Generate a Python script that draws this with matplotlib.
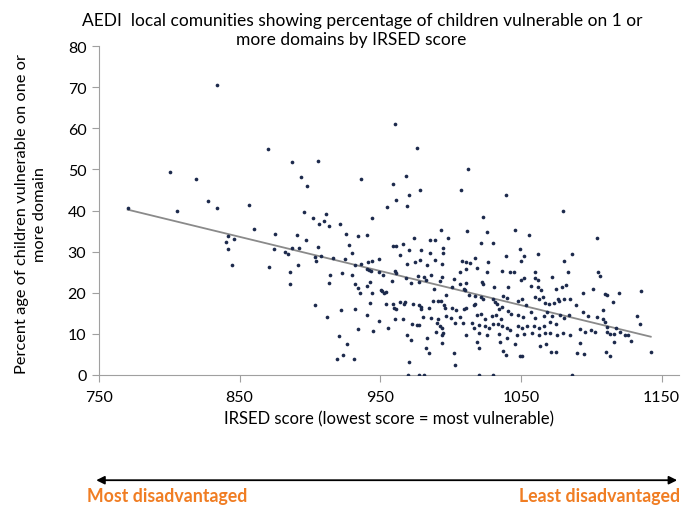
import matplotlib.pyplot as plt
import numpy as np

plt.rcParams['font.family'] = ['Lato', 'DejaVu Sans']

# IRSED score and % of children vulnerable on 1+ domains, per local community
irsed_low = [770.5, 805.4, 800.8, 818.9, 827.2, 834.1, 833.6, 857.0, 870.3, 887.4,
             860.5, 875.5, 891.0, 841.5, 846.3, 840.6, 841.5, 887.1, 891.9, 874.3,
             882.0, 884.6, 844.3, 870.7, 891.6, 886.0, 886.0]
pct_low = [40.5, 39.9, 49.4, 47.7, 42.2, 40.6, 70.5, 41.3, 55.0, 51.8,
           35.4, 34.3, 34.0, 33.7, 33.0, 32.3, 30.6, 30.9, 31.0, 30.6,
           29.8, 29.5, 26.7, 26.3, 26.7, 25.0, 22.1]

irsed_high = [960.8, 976.4, 905.6, 1012.1, 893.5, 968.6, 936.3, 897.8, 959.1, 978.2,
              1007.2, 970.3, 961.5, 954.6, 969.3, 895.5, 911.4, 902.3, 944.1,
              1039.0, 1079.6, 1022.8]
pct_high = [61.1, 55.2, 52.0, 50.0, 48.2, 48.4, 47.7, 46.0, 46.5, 45.0,
            45.0, 43.8, 42.6, 40.8, 41.1, 39.7, 39.1, 38.2, 38.2,
            43.8, 39.9, 38.4]

irsed_mid = [909.7, 906.3, 913.7, 921.5, 896.9, 925.8, 934.2, 940.4, 905.6, 928.0,
             930.1, 903.3, 904.4, 907.6, 916.6, 924.7, 936.5, 941.5, 944.1, 949.4,
             932.0, 940.5, 942.0, 943.6, 914.2, 923.0, 929.7, 913.7, 932.0, 934.2,
             940.5, 942.5, 935.6, 944.4, 950.6, 951.5, 952.5, 954.4, 903.5, 912.3,
             922.0, 932.0, 940.8, 942.5, 948.9, 934.2, 945.1, 920.6, 926.6, 919.0,
             923.7, 931.1, 955.3, 954.4, 958.9, 959.8, 961.5, 963.9, 966.6, 967.9,
             960.3, 966.2, 959.1, 961.5, 966.2, 974.3, 985.3, 989.1, 993.1, 998.3,
             1011.4, 964.1, 970.5, 979.1, 985.5, 994.6, 994.6, 968.9, 975.0, 978.4,
             983.3, 988.6, 993.8, 960.3, 961.1, 949.1, 952.0, 958.2, 968.6, 972.0,
             976.7, 981.0, 977.7, 982.4, 988.3, 992.1, 993.6, 986.0, 1002.6, 1006.4,
             1010.7, 1007.8, 1010.7, 1006.8, 1009.5, 1010.7, 1010.0, 997.0, 1001.0, 1013.3,
             972.9, 977.2, 978.6, 979.2, 987.6, 991.3, 992.8, 984.7, 995.4, 996.1,
             1000.7, 1003.5, 1009.3, 1010.7, 980.7, 986.0, 991.0, 996.7, 1000.5, 1006.7,
             976.0, 977.6, 972.5, 990.0, 992.6, 994.2, 994.6, 1003.1, 1009.0, 969.1,
             982.9, 989.3, 993.8, 1011.0, 993.6, 971.5, 982.4, 984.3, 1002.4, 1002.8,
             970.5, 969.8, 977.5, 981.1, 1020.3, 1030.2, 1086.5]
pct_mid = [37.5, 36.7, 36.3, 36.6, 32.8, 34.2, 33.9, 34.1, 31.2, 31.6,
           29.7, 28.8, 27.7, 29.0, 28.4, 28.2, 27.0, 27.5, 27.7, 28.2,
           26.8, 25.8, 25.5, 25.3, 24.4, 24.7, 24.2, 22.4, 22.1, 21.2,
           21.7, 22.5, 19.9, 19.9, 20.7, 20.3, 19.9, 20.1, 17.1, 14.2,
           15.8, 16.1, 14.6, 17.6, 13.2, 11.3, 10.7, 9.4, 7.5, 4.0,
           4.9, 4.0, 11.5, 17.2, 17.3, 16.4, 16.1, 17.7, 17.3, 17.7,
           13.6, 13.6, 31.4, 31.3, 31.9, 33.2, 32.9, 32.8, 35.3, 33.2,
           34.9, 29.2, 30.4, 30.3, 29.7, 30.9, 29.6, 27.0, 27.4, 28.0,
           26.8, 28.0, 27.0, 25.3, 24.7, 25.0, 24.4, 22.9, 23.5, 22.4,
           24.1, 23.9, 22.6, 23.0, 20.9, 22.9, 23.8, 24.3, 23.3, 25.0,
           25.7, 27.6, 27.4, 22.1, 21.0, 22.4, 20.6, 19.5, 21.5, 19.5,
           17.3, 16.9, 16.5, 16.1, 17.9, 18.1, 18.1, 16.3, 16.9, 16.3,
           16.3, 15.7, 16.1, 16.4, 14.1, 13.8, 13.5, 14.4, 13.8, 14.2,
           12.2, 12.1, 12.3, 12.6, 11.8, 11.4, 10.1, 12.7, 12.6, 9.7,
           9.0, 10.5, 9.7, 9.6, 7.8, 8.4, 6.5, 5.4, 5.4, 2.5,
           3.2, 0.0, 0.0, 0.0, 0.0, 0.0, 0.0]

irsed_right = [1026.1, 1045.9, 1055.4, 1104.1, 1021.4, 1030.4, 1049.0, 1017.1, 1039.5, 1051.8,
               1050.2, 1062.3, 1086.0, 1026.6, 1080.3, 1013.8, 1019.0, 1036.3, 1042.3, 1045.3,
               1060.0, 1083.4, 1104.8, 1106.5, 1026.1, 1022.0, 1023.2, 1030.9, 1041.1, 1050.2,
               1051.8, 1060.3, 1062.3, 1057.3, 1062.3, 1064.1, 1072.3, 1075.1, 1079.4, 1081.7,
               1094.1, 1101.2, 1109.8, 1111.2, 1119.8, 1135.5, 1115.1, 1108.4, 1132.6, 1134.3,
               1017.6, 1021.4, 1023.2, 1016.4, 1017.5, 1029.9, 1031.5, 1033.2, 1037.5, 1039.9,
               1048.2, 1050.5, 1053.5, 1060.1, 1062.7, 1065.6, 1067.0, 1070.0, 1073.1, 1076.0,
               1077.3, 1080.8, 1085.1, 1089.4, 1019.0, 1021.4, 1024.2, 1029.5, 1032.0, 1036.1,
               1034.2, 1036.6, 1041.1, 1043.2, 1048.2, 1051.7, 1057.0, 1059.9, 1066.6, 1068.6,
               1071.7, 1078.0, 1080.4, 1084.1, 1094.1, 1097.4, 1104.1, 1108.1, 1109.5, 1111.2,
               1117.5, 1120.2, 1123.6, 1125.9, 1111.2, 1113.6, 1116.4, 1115.9, 1127.9, 1142.2,
               1024.2, 1027.1, 1030.3, 1033.8, 1015.0, 1016.8, 1019.9, 1036.8, 1039.7, 1042.3,
               1048.2, 1051.0, 1054.2, 1058.9, 1062.5, 1066.0, 1070.8, 1075.1, 1092.2, 1095.8,
               1099.4, 1102.5, 1070.8, 1075.6, 1079.8, 1085.1, 1057.7, 1062.7, 1067.3, 1047.0,
               1051.8, 1034.2, 1040.3, 1020.4, 1026.1, 1018.7, 1019.8, 1035.2, 1037.1, 1045.9,
               1049.5, 1050.9, 1039.5, 1063.7, 1067.7, 1075.1, 1071.3, 1089.8, 1092.2, 1095.0,
               1110.2, 1113.0]
pct_right = [34.7, 35.2, 34.1, 33.3, 32.0, 32.0, 30.6, 28.5, 29.0, 29.0,
             27.6, 29.4, 29.4, 27.4, 27.7, 27.2, 25.9, 25.3, 25.1, 25.1,
             25.0, 25.1, 25.1, 24.1, 25.1, 22.7, 22.2, 21.3, 21.5, 23.2,
             23.5, 23.5, 23.2, 21.7, 21.3, 20.7, 23.8, 20.9, 21.4, 21.9,
             19.9, 20.9, 19.6, 19.4, 20.0, 20.4, 17.7, 15.7, 14.3, 12.4,
             19.3, 18.9, 18.5, 16.9, 17.2, 18.5, 17.7, 17.2, 19.1, 18.7,
             17.9, 18.5, 17.1, 19.0, 18.5, 18.9, 17.5, 17.2, 17.5, 18.5,
             18.0, 18.5, 18.5, 16.9, 14.6, 14.9, 13.6, 14.3, 14.6, 13.6,
             16.1, 16.5, 15.6, 14.9, 14.6, 14.1, 15.2, 13.9, 14.4, 15.2,
             14.4, 14.7, 13.8, 14.6, 15.2, 14.4, 14.1, 13.6, 12.8, 11.7,
             11.4, 10.5, 9.7, 9.6, 10.4, 10.0, 10.0, 7.9, 8.3, 5.5,
             12.0, 11.4, 12.4, 12.3, 12.6, 11.5, 12.2, 11.8, 11.5, 11.0,
             11.8, 11.5, 12.0, 12.0, 11.5, 12.0, 12.8, 12.3, 11.2, 10.5,
             11.0, 10.5, 10.2, 9.6, 10.2, 9.6, 10.2, 9.7, 10.2, 9.7,
             9.9, 9.9, 9.1, 10.2, 9.7, 7.9, 6.5, 7.9, 5.9, 7.5,
             4.7, 4.7, 4.9, 7.1, 7.5, 5.7, 5.5, 5.3, 7.8, 5.1,
             5.7, 4.7]

x_ticks = [750, 850, 950, 1050, 1150]
y_ticks = [0, 10, 20, 30, 40, 50, 60, 70, 80]

irsed = np.array(irsed_low + irsed_high + irsed_mid + irsed_right)
pct = np.array(pct_low + pct_high + pct_mid + pct_right)

fig = plt.figure(figsize=(6.82, 5.06), dpi=100)
ax = fig.add_axes([0.145, 0.257, 0.85, 0.65])

ax.scatter(irsed, pct, s=7, color='#1c2a4c', zorder=3, linewidths=0)

# linear trend line over the range of scores
slope, intercept = np.polyfit(irsed, pct, 1)
xs = np.array([irsed.min(), irsed.max()])
ax.plot(xs, slope * xs + intercept, color='#8a8a8a', lw=1.3, zorder=2)

ax.set_xlim(750, 1162)
ax.set_ylim(0, 80)
ax.set_xticks(x_ticks)
ax.set_xticklabels([str(t) for t in x_ticks])
ax.set_yticks(y_ticks)
ax.tick_params(axis='x', length=5, color='#a0a0a0', labelsize=11.5, pad=6)
ax.tick_params(axis='y', length=5, color='#a0a0a0', labelsize=11.5, pad=4)
for side in ['top', 'right']:
    ax.spines[side].set_visible(False)
for side in ['left', 'bottom']:
    ax.spines[side].set_color('#a0a0a0')

fig.text(0.571, 1 - 419 / 506, 'IRSED score (lowest score = most vulnerable)',
         ha='center', va='center', fontsize=12)
fig.text(31 / 682, 0.577, 'Percent age of children vulnerable on one or\nmore domain',
         rotation=90, ha='center', va='center', multialignment='center',
         fontsize=11.8, linespacing=1.45)

fig.text(0.531, 0.9585, 'AEDI  local comunities showing percentage of children vulnerable on 1 or',
         ha='center', va='center', fontsize=12.5)
fig.text(0.515, 0.921, 'more domains by IRSED score', ha='center', va='center', fontsize=12.5)

# direction arrow under the axis
ax.annotate('', xy=(0.997, 0.049), xytext=(0.137, 0.049), xycoords='figure fraction',
            arrowprops=dict(arrowstyle='<|-|>', color='black', lw=1.3, mutation_scale=12))
fig.text(0.128, 0.018, 'Most disadvantaged', color='#f07d23', fontsize=12.8,
         fontweight='bold', ha='left', va='center')
fig.text(0.997, 0.018, 'Least disadvantaged', color='#f07d23', fontsize=12.8,
         fontweight='bold', ha='right', va='center')

fig.savefig('out.png', dpi=100)
